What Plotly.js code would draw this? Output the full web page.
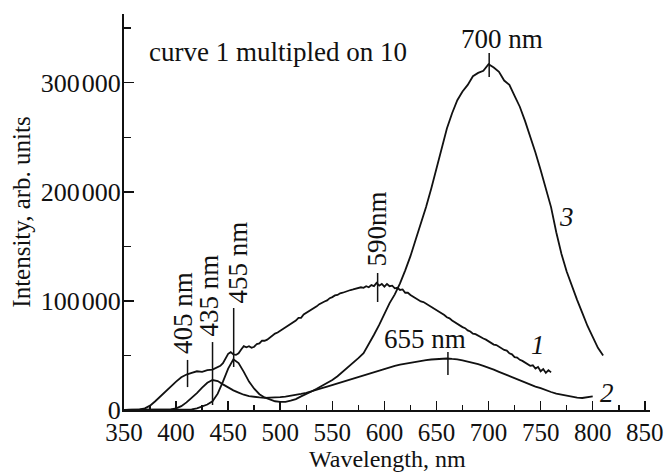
<!DOCTYPE html>
<html>
<head>
<meta charset="utf-8">
<script src="https://cdn.plot.ly/plotly-3.0.1.min.js"></script>
<style>html,body{margin:0;padding:0;background:#fff;}#chart{width:664px;height:473px;}</style>
</head>
<body>
<div id="chart"></div>
<script>
// Curve 1 (multiplied by 10)
const wl1 = [350,355,360,365,370,375,380,385,390,395,400,405,410,415,420,425,430,435,
440,442.5,445,447.5,450,452.5,455,457.5,460,462.5,465,467.5,470,472.5,475,477.5,480,482.5,485,487.5,490,492.5,495,497.5,
500,502.5,505,507.5,510,512.5,515,517.5,520,522.5,525,527.5,530,532.5,535,537.5,540,542.5,545,547.5,
550,552.5,555,557.5,560,562.5,565,567.5,570,572.5,575,577.5,580,582.5,585,587.5,590,592.5,595,597.5,
600,602.5,605,607.5,610,612.5,615,617.5,620,622.5,625,627.5,630,632.5,635,637.5,640,642.5,645,647.5,
650,652.5,655,657.5,660,662.5,665,667.5,670,672.5,675,677.5,680,682.5,685,687.5,690,692.5,695,697.5,
700,702.5,705,707.5,710,712.5,715,717.5,720,722.5,725,727.5,730,732.5,735,737.5,740,742.5,745,747.5,
750,752.5,755,757.5,760];
const int1 = [0,0,0,500,1500,4000,8000,12500,17000,22000,26000,30000,32500,34000,35500,35000,36500,37000,
39000,40500,43000,47500,51500,53000,51000,50500,52000,55500,58500,57500,58500,57000,58000,60500,61000,63500,63500,64500,66500,68000,70000,71000,
72500,74000,75500,77500,79000,80500,82000,84500,84500,87500,89000,90000,91500,93500,95000,97000,98500,99500,100500,102500,
103500,105000,105500,107000,107500,108500,109500,110000,110500,111000,111500,112500,112000,113500,112500,114500,113500,116500,114000,115500,
113000,115500,113500,114000,111500,112000,110000,110500,107500,107500,105500,104000,102500,101500,99500,99000,97500,96000,94500,93500,
91500,90500,89000,87000,85000,84000,82000,80500,78500,77500,76000,75000,73000,72000,70000,69500,68000,67000,65500,64500,
63000,62000,60000,59500,58000,56500,55000,54500,52000,51000,48500,48000,46000,45000,43500,42500,40500,41000,38000,39500,
35500,37500,34000,36500,34500];

// Curve 2
const wl2 = [350,355,360,365,370,375,380,385,390,395,400,405,410,415,420,425,430,435,440,445,450,455,460,465,470,475,480,485,490,495,500,505,510,515,520,525,530,535,540,545,550,555,560,565,570,575,580,585,590,595,600,605,610,615,620,625,630,635,640,645,650,655,660,665,670,675,680,685,690,695,700,705,710,715,720,725,730,735,740,745,750,755,760,765,770,775,780,785,790,795,800];
const int2 = [0,0,0,0,0,0,0,0,0,500,1500,3500,7000,11000,15500,20500,25000,27500,26500,23500,20500,18000,16000,14000,12800,12000,11500,11200,11300,11500,11800,12300,13000,13800,14800,15800,17000,18500,20000,21500,23000,24500,26000,27500,29000,30500,32000,33500,35000,36500,38000,39200,40500,41500,42500,43500,44200,45000,45800,46300,46800,47000,47200,46800,46500,45500,44500,43500,42000,40500,39000,37000,35000,33000,31000,29000,27000,25000,23000,21500,20000,18000,16500,15000,14000,13000,12000,11300,11000,12000,12500];

// Curve 3
const wl3 = [350,355,360,365,370,375,380,385,390,395,400,405,410,415,420,425,430,435,440,445,450,455,460,465,470,475,480,485,490,495,500,505,510,515,520,525,530,535,540,545,550,555,560,565,570,575,580,585,590,595,600,605,610,615,620,625,630,635,640,645,650,655,660,665,670,675,680,685,690,695,700,705,710,715,720,725,730,735,740,745,750,755,760,765,770,775,780,785,790,795,800,805,810];
const int3 = [0,0,0,0,0,0,0,0,0,0,0,0,0,500,1500,3000,5000,8000,15000,26000,38000,46500,43000,35000,26000,19500,14500,11500,9500,8000,7500,7500,8500,10000,12500,14500,17000,19500,22000,24500,27500,31000,35000,39000,43000,47500,52000,60000,69000,78000,88000,98000,106000,116000,128000,141000,156000,170000,186000,203000,222000,240000,258000,272000,284000,292000,298000,306000,309000,311000,317000,314000,310000,302000,298000,288000,278000,265000,251000,236000,220000,203000,186000,163000,143000,127000,113000,101000,89000,77000,67000,57000,50000];

// Axis ticks and titles
const yTickVals = [0,100000,200000,300000];
const yTickText = ['0','100\u200a000','200\u200a000','300\u200a000'];
const xTickVals = [350,400,450,500,550,600,650,700,750,800,850];
const xTickText = ['350','400','450','500','550','600','650','700','750','800','850'];
const xTitle = 'Wavelength, nm';
const yTitle = 'Intensity, arb. units';

// Peak markers
const peakLabels = ['405 nm','435 nm','455 nm','590nm','655 nm','700 nm'];
const peakX      = [411, 435, 455.3, 593.5, 661, 700.6];
const peakY0     = [21000, 4600, 39400, 99000, 32100, 305300];
const peakY1     = [45900, 62300, 93500, 125600, 53200, 327300];
const peakLabelX = [406.6, 432.5, 459.4, 593.8, 638.9, 712.8];
const peakLabelY = [88900, 105000, 135200, 166400, 65100, 340000];
const peakAngle  = [-90, -90, -90, -90, 0, 0];

const curveNames = ['1','2','3'];
const curveLabelX = [747.3, 813.5, 775.1];
const curveLabelY = [59600, 15600, 176900];

const FONT = 'Liberation Serif, Times New Roman, serif';
const INK = '#111';
const lineStyle = {color:INK, width:1.8};

const traces = [
  {x: wl1, y: int1, mode:'lines', line: lineStyle, name:'1'},
  {x: wl2, y: int2, mode:'lines', line: lineStyle, name:'2'},
  {x: wl3, y: int3, mode:'lines', line: lineStyle, name:'3'}
];

const shapes = peakX.map((px,i)=>({type:'line', xref:'x', yref:'y', x0:px, x1:px, y0:peakY0[i], y1:peakY1[i], line:{color:INK, width:1.5}}));

const annotations = [];
annotations.push({x:372, y:328000, xref:'x', yref:'y', text:'curve 1 multipled on 10', showarrow:false, xanchor:'left', yanchor:'middle', font:{family:FONT, size:27, color:INK}});
peakLabels.forEach((t,i)=>annotations.push({x:peakLabelX[i], y:peakLabelY[i], xref:'x', yref:'y', text:t, showarrow:false, textangle:peakAngle[i], xanchor:'center', yanchor:'middle', font:{family:FONT, size:27, color:INK}}));
curveNames.forEach((t,i)=>annotations.push({x:curveLabelX[i], y:curveLabelY[i], xref:'x', yref:'y', text:'<i>'+t+'</i>', showarrow:false, xanchor:'center', yanchor:'middle', font:{family:FONT, size:27, color:INK}}));
annotations.push({x:0.5, y:-0.159, xref:'paper', yref:'paper', text:xTitle, showarrow:false, xanchor:'center', yanchor:'bottom', borderpad:0, font:{family:FONT, size:24, color:INK}});

const layout = {
  width:664, height:473,
  margin:{l:124, r:14, t:14, b:63},
  paper_bgcolor:'#fff', plot_bgcolor:'#fff',
  showlegend:false,
  font:{family:FONT, size:25, color:INK},
  xaxis:{
    range:[350,855], showgrid:false, zeroline:false,
    showline:true, linecolor:INK, linewidth:2,
    ticks:'inside', ticklen:9, tickwidth:1.5, tickcolor:INK,
    ticklabeloverflow:'allow', ticklabelstandoff:-1,
    tickvals:xTickVals, ticktext:xTickText,
    minor:{tickvals:[375,425,475,525,575,625,675,725,775,825], ticks:'inside', ticklen:5, tickwidth:1.5, tickcolor:INK},
    tickfont:{family:FONT, size:25, color:INK}
  },
  yaxis:{
    range:[0,363000], showgrid:false, zeroline:false,
    showline:true, linecolor:INK, linewidth:2,
    ticks:'inside', ticklen:10, tickwidth:1.5, tickcolor:INK,
    ticklabelstandoff:-4,
    tickvals:yTickVals, ticktext:yTickText,
    minor:{tickvals:[50000,150000,250000,350000], ticks:'inside', ticklen:7, tickwidth:1.5, tickcolor:INK},
    tickfont:{family:FONT, size:26, color:INK},
    title:{text:yTitle, font:{family:FONT, size:25, color:INK}, standoff:3}
  },
  shapes: shapes,
  annotations: annotations
};

Plotly.newPlot('chart', traces, layout, {displayModeBar:false, staticPlot:true});
</script>
</body>
</html>
